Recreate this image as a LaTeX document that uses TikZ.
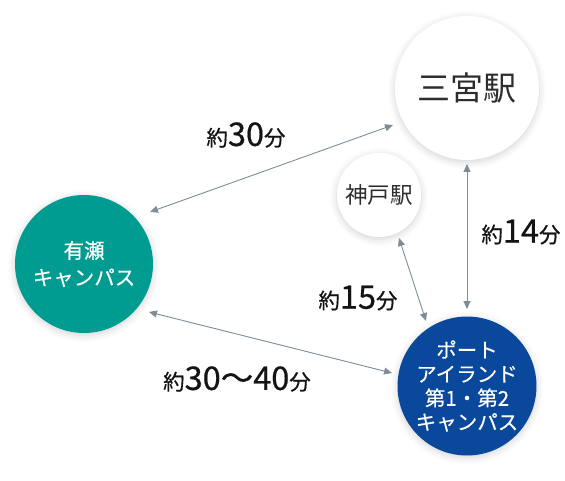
\documentclass[tikz,border=0pt]{standalone}
\usepackage{fontspec}
\setmainfont{Noto Sans CJK JP}
\newfontfamily\lblfont[FakeBold=0.6]{Noto Sans CJK JP}
\newfontfamily\campfont[FakeBold=0.3]{Noto Sans CJK JP}
\usetikzlibrary{arrows.meta,shadows.blur}
\definecolor{teal1}{RGB}{0,155,145}
\definecolor{navy1}{RGB}{10,72,155}
\definecolor{arrowgray}{RGB}{125,140,150}
\definecolor{textdark}{RGB}{45,45,45}
\definecolor{labeldark}{RGB}{20,20,20}
\tikzset{
  station/.style={circle, fill=white, text=textdark, align=center, inner sep=0pt,
    blur shadow={shadow xshift=0pt, shadow yshift=-2pt, shadow blur radius=7pt, shadow opacity=18}},
  campus/.style={circle, text=white, align=center, inner sep=0pt,
    blur shadow={shadow xshift=0pt, shadow yshift=-2pt, shadow blur radius=7pt, shadow opacity=18}},
  conn/.style={arrowgray, line width=0.9pt, {Triangle[width=7pt,length=8pt]}-{Triangle[width=7pt,length=8pt]}},
  timelabel/.style={text=labeldark, inner sep=0pt, font=\lblfont},
}
\newcommand{\sm}[1]{{\fontsize{21.5}{23}\selectfont #1}}
\newcommand{\bg}[1]{{\fontsize{32.5}{34}\selectfont #1}}
\begin{document}
\begin{tikzpicture}[x=1pt,y=-1pt]
\useasboundingbox (0,0) rectangle (565,481);
% circles
\node[station, minimum size=144pt, font=\fontsize{33}{36}\selectfont] (sannomiya) at (467,88) {三宮駅};
\node[station, minimum size=84pt, font=\fontsize{22.5}{25}\selectfont] (kobe) at (379,195) {神戸駅};
\node[campus, fill=teal1, minimum size=138pt, font=\campfont\fontsize{20.5}{27}\selectfont] (arise) at (84,264)
  {有瀬\\キャンパス};
\node[campus, fill=navy1, minimum size=139pt, font=\campfont\fontsize{20.5}{24}\selectfont] (port) at (467,386)
  {ポート\\アイランド\\第1・第2\\キャンパス};
% connector end points
\coordinate (a1) at (150,212);
\coordinate (s1) at (393,125);
\coordinate (a2) at (149,312);
\coordinate (p1) at (392,373);
\coordinate (s2) at (467,164);
\coordinate (p2) at (467,309);
\coordinate (k1) at (399,238);
\coordinate (p3) at (426,321);
\draw[conn] (a1) -- (s1);
\draw[conn] (a2) -- (p1);
\draw[conn] (s2) -- (p2);
\draw[conn] (k1) -- (p3);
% labels
\node[timelabel] (t1) at (246,135) {\sm{約}\bg{30}\sm{分}};
\node[timelabel] (t2) at (521,232) {\sm{約}\bg{14}\sm{分}};
\node[timelabel] (t3) at (358,298) {\sm{約}\bg{15}\sm{分}};
\node[timelabel] (t4) at (237,379) {\sm{約}\bg{30〜40}\sm{分}};
\end{tikzpicture}
\end{document}
